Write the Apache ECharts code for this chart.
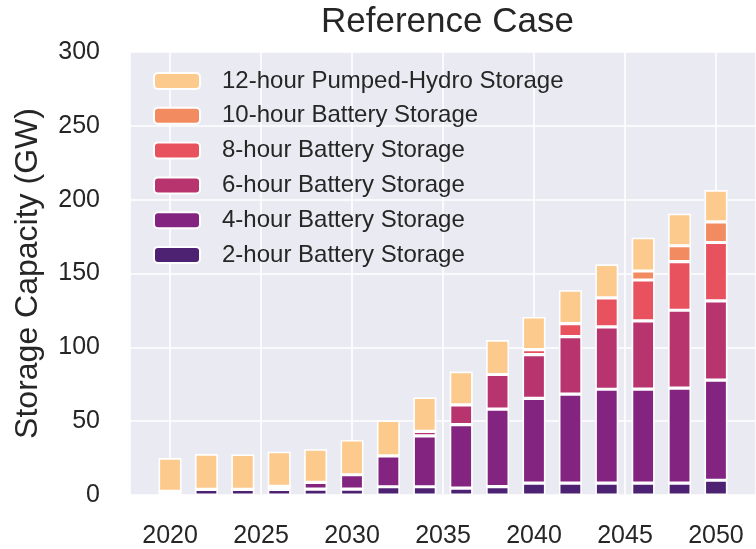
<!DOCTYPE html>
<html>
<head>
<meta charset="utf-8">
<script src="https://cdn.jsdelivr.net/npm/echarts@6/dist/echarts.min.js"></script>
<style>
html,body{margin:0;padding:0;background:#fff;}
#chart{width:756px;height:549px;}
</style>
</head>
<body>
<div id="chart"></div>
<script>
const years = [2020,2022,2024,2026,2028,2030,2032,2034,2036,2038,2040,2042,2044,2046,2048,2050];
const h2  = [2.0, 3.8, 3.8, 3.8, 4.0, 4.0, 5.6, 5.6, 4.6, 5.7, 8.0, 8.0, 8.0, 8.0, 8.0, 10.0];
const h4  = [0.5, 0, 0, 2.0, 4.5, 9.7, 20.9, 34.5, 43.0, 52.5, 57.5, 60.3, 63.6, 63.7, 64.4, 67.8];
const h6  = [0, 0, 0, 0, 0, 0, 0, 3.0, 13.5, 23.4, 29.5, 39.0, 42.3, 46.2, 52.7, 53.6];
const h8  = [0, 0, 0, 0, 0, 0, 0, 0, 0, 0, 3.4, 8.8, 19.6, 27.7, 32.9, 39.6];
const h10 = [0, 0, 0, 0, 0, 0, 0, 0, 0, 0, 0, 0, 0, 6.1, 10.8, 14.0];
const h12 = [22.5, 23.9, 23.7, 23.5, 22.5, 23.6, 24.1, 23.0, 22.5, 23.3, 22.2, 22.6, 22.7, 22.5, 21.7, 21.5];
const seriesNames = ['2-hour Battery Storage','4-hour Battery Storage','6-hour Battery Storage','8-hour Battery Storage','10-hour Battery Storage','12-hour Pumped-Hydro Storage'];
const seriesValues = [h2, h4, h6, h8, h10, h12];
const colors = ['#4d2273','#822480','#b8346f','#e8525e','#f38b60','#fdca8d'];
const yTicks = [0,50,100,150,200,250,300];

const FONT = '"Liberation Sans", Arial, sans-serif';
const TXT = '#262626';
const chart = echarts.init(document.getElementById('chart'), null, {renderer:'canvas'});

// data items are [value, year] so that the stacked dimension is the value (y)
const series = seriesNames.map((n, k) => ({
  name: n,
  type: 'bar',
  stack: 'total',
  barWidth: 23,
  encode: { x: 1, y: 0 },
  itemStyle: { color: colors[k], borderColor: '#ffffff', borderWidth: 1.6 },
  emphasis: { disabled: true },
  data: years.map((y, i) => [seriesValues[k][i], y])
}));

chart.setOption({
  animation: false,
  backgroundColor: '#ffffff',
  textStyle: { fontFamily: FONT },
  title: {
    text: 'Reference Case',
    left: 316, top: 0,
    textStyle: { fontFamily: FONT, fontSize: 35, fontWeight: 'normal', color: TXT }
  },
  grid: { left: 130, top: 52, width: 633, height: 444, show: true, backgroundColor: '#eaeaf2', borderWidth: 0 },
  legend: {
    orient: 'vertical',
    left: 153, top: 69, padding: 0,
    itemWidth: 46, itemHeight: 16, itemGap: 10.8,
    data: seriesNames.slice().reverse(),
    textStyle: { fontFamily: FONT, fontSize: 24, lineHeight: 24, color: TXT, padding: [0,0,0,17] }
  },
  xAxis: {
    type: 'value',
    min: 2017.8, max: 2052.2,
    axisLine: { show: false }, axisTick: { show: false },
    splitLine: { show: true, lineStyle: { color: '#ffffff', width: 1.6 } },
    axisLabel: {
      show: true, margin: 29, fontSize: 25, color: TXT, fontFamily: FONT,
      showMinLabel: false, showMaxLabel: false,
      formatter: v => (Math.abs(v - Math.round(v)) < 1e-6 && Math.round(v) % 5 === 0) ? String(Math.round(v)) : ''
    }
  },
  yAxis: {
    type: 'value',
    min: yTicks[0], max: yTicks[yTicks.length - 1], interval: 50,
    name: 'Storage Capacity (GW)', nameLocation: 'middle', nameGap: 86,
    nameTextStyle: { fontFamily: FONT, fontSize: 32, color: TXT },
    axisLine: { show: false }, axisTick: { show: false },
    splitLine: { show: true, lineStyle: { color: '#ffffff', width: 1.6 } },
    axisLabel: { margin: 30, fontSize: 25, color: TXT, fontFamily: FONT }
  },
  series: series
});
</script>
</body>
</html>
